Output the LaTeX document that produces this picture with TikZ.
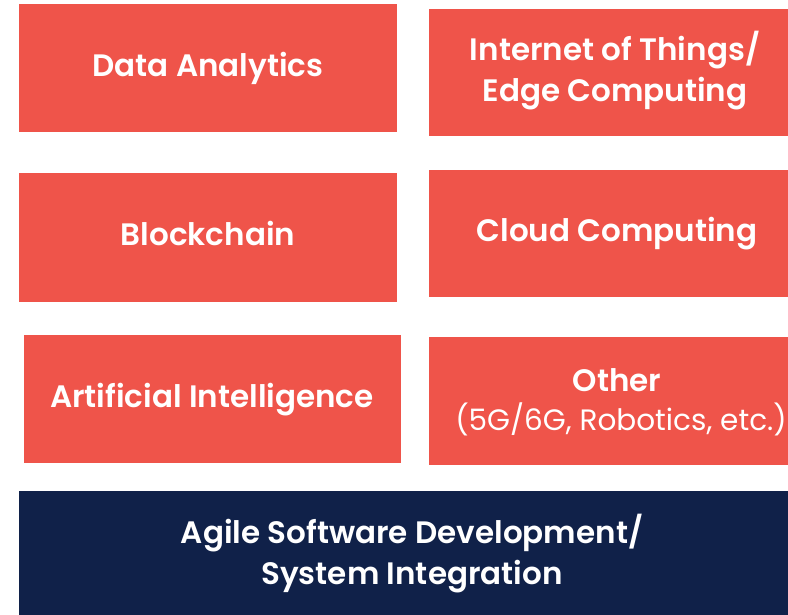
\documentclass[tikz,border=0pt]{standalone}
\usepackage{fontspec}
\setmainfont{Poppins}[BoldFont = * SemiBold]
\definecolor{tilered}{RGB}{239,84,74}
\definecolor{navy}{RGB}{16,33,73}
\begin{document}
\begin{tikzpicture}[x=1pt,y=-1pt,
  tile/.style={fill=tilered, draw=none},
  basebox/.style={fill=navy, draw=none},
  label/.style={text=white, font=\fontsize{31}{41}\selectfont\bfseries, align=center, inner sep=0pt, anchor=base},
  sublabel/.style={text=white, font=\fontsize{29.5}{41}\selectfont, align=center, inner sep=0pt, anchor=base}]
  \useasboundingbox (0,0) rectangle (788,615);
  % technology tiles
  \path[tile] (19,4) rectangle (397,132);
  \path[tile] (429,9) rectangle (788,136);
  \path[tile] (19,173) rectangle (397,302);
  \path[tile] (429,170) rectangle (788,297);
  \path[tile] (24,335) rectangle (401,463);
  \path[tile] (429,337) rectangle (788,465);
  % foundation layer
  \path[basebox] (19,491) rectangle (788,615);
  % labels, placed by their last baseline
  \node[label] (da) at (208,77) {Data Analytics};
  \node[label] (iot) at (615,102) {Internet of Things/\\Edge Computing};
  \node[label] (bc) at (208,246) {Blockchain};
  \node[label] (cc) at (617,241) {Cloud Computing};
  \node[label] (ai) at (212,407) {Artificial Intelligence};
  \node[label] (oth) at (617,391) {Other};
  \node[sublabel] (othsub) at (621,430) {(5G/6G, Robotics, etc.)};
  \node[label] (agile) at (412,584) {Agile Software Development/\\System Integration};
\end{tikzpicture}
\end{document}
